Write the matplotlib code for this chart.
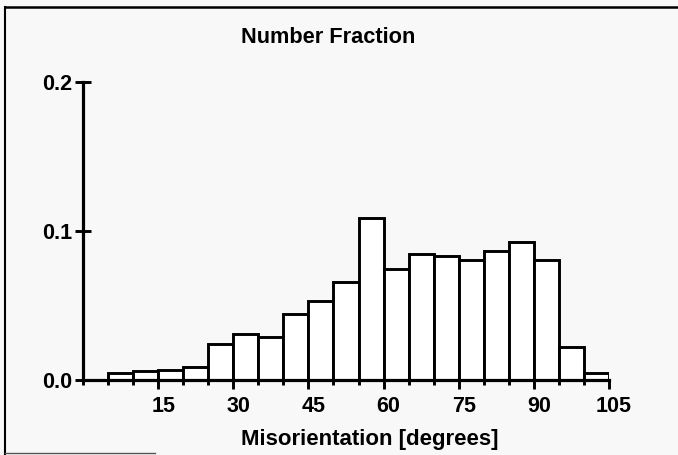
import matplotlib
matplotlib.use("Agg")
import matplotlib.pyplot as plt
import matplotlib.transforms as mtransforms
from matplotlib.lines import Line2D

# histogram of misorientation angles, 5 degree bins
bin_edges = [5, 10, 15, 20, 25, 30, 35, 40, 45, 50,
             55, 60, 65, 70, 75, 80, 85, 90, 95, 100]
fractions = [0.0049, 0.0060, 0.0067, 0.0085, 0.0240, 0.0310, 0.0287, 0.0443, 0.0532, 0.0658,
             0.1090, 0.0743, 0.0846, 0.0835, 0.0805, 0.0868, 0.0924, 0.0805, 0.0224, 0.0045]
x_ticks = [15, 30, 45, 60, 75, 90, 105]
x_minor = list(range(0, 106, 5))
y_ticks = [0.0, 0.1, 0.2]
y_labels = ["0.0", "0.1", "0.2"]

plt.rcParams['font.family'] = ['Liberation Sans', 'DejaVu Sans']
plt.rcParams['font.weight'] = 'bold'

bg = '#f8f8f8'
fig = plt.figure(figsize=(6.78, 4.55), dpi=100, facecolor=bg)
ax = fig.add_axes([0.1224, 0.1648, 0.7758, 0.655], facecolor=bg)

ax.bar(bin_edges, fractions, width=5, align='edge',
       color='white', edgecolor='black', linewidth=2.1, zorder=2)

ax.set_xlim(0, 105)
ax.set_ylim(0, 0.2)

for side in ['top', 'right']:
    ax.spines[side].set_visible(False)
for side in ['left', 'bottom']:
    ax.spines[side].set_linewidth(2.3)
    ax.spines[side].set_zorder(3)

ax.set_xticks(x_ticks)
ax.set_xticks(x_minor, minor=True)
ax.set_xticklabels([str(t) for t in x_ticks], fontsize=15.5, fontweight='bold')
ax.set_yticks(y_ticks)
ax.set_yticklabels(y_labels, fontsize=15.5, fontweight='bold')

ax.tick_params(axis='x', which='major', direction='out', length=6.5, width=2.1, pad=5)
ax.tick_params(axis='x', which='minor', direction='out', length=3.6, width=2.1)
ax.tick_params(axis='y', which='major', direction='inout', length=11.5, width=2.1, pad=2)

# labels in the original sit a little right of their ticks
offset = mtransforms.ScaledTranslation(5 / 100, 0, fig.dpi_scale_trans)
for lab in ax.get_xticklabels():
    lab.set_transform(lab.get_transform() + offset)

for t in ax.get_xticklines() + ax.get_yticklines():
    t.set_clip_on(False)

fig.text(0.484, 0.9165, "Number Fraction", ha='center', va='center',
         fontsize=15.7, fontweight='bold')
fig.text(0.546, 0.022, "Misorientation [degrees]", ha='center', va='baseline',
         fontsize=16, fontweight='bold')

# frame of the scanned figure
W, H = 678.0, 455.0
fig.add_artist(Line2D([5 / W, 1.0], [1 - 7 / H, 1 - 7 / H], color='black', lw=1.8,
                      transform=fig.transFigure))
fig.add_artist(Line2D([5 / W, 5 / W], [1 - 7 / H, 0.0], color='black', lw=1.5,
                      transform=fig.transFigure))
fig.add_artist(Line2D([5 / W, 155 / W], [1 - 453 / H, 1 - 453 / H], color='#555555', lw=1.0,
                      transform=fig.transFigure))

fig.savefig("out.png", dpi=100, facecolor=bg)
